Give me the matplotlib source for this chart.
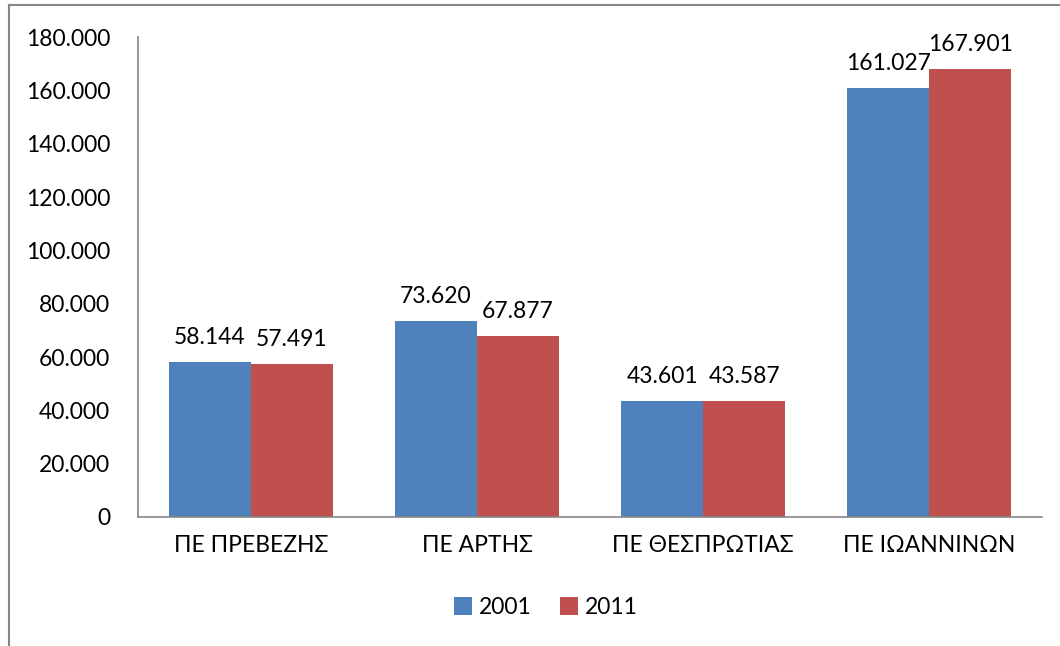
import matplotlib.pyplot as plt
import numpy as np
from matplotlib.lines import Line2D

plt.rcParams['font.family'] = ['Lato', 'DejaVu Sans']

# datos
categorias = ["ΠΕ ΠΡΕΒΕΖΗΣ", "ΠΕ ΑΡΤΗΣ", "ΠΕ ΘΕΣΠΡΩΤΙΑΣ", "ΠΕ ΙΩΑΝΝΙΝΩΝ"]
pob_2001 = [58144, 73620, 43601, 161027]
pob_2011 = [57491, 67877, 43587, 167901]
anios = ["2001", "2011"]

def fmt(v):
    # separador de miles con punto
    return f"{v:,.0f}".replace(",", ".")

fs = 16.5
fig = plt.figure(figsize=(10.6, 6.46), dpi=100)
ax = fig.add_axes([0.1302, 0.1997, 0.853, 0.743])

x = np.arange(len(categorias))
w = 0.363
b1 = ax.bar(x - w/2, pob_2001, w, color="#4F81BD", label=anios[0])
b2 = ax.bar(x + w/2, pob_2011, w, color="#C0504D", label=anios[1])

for bars in (b1, b2):
    for rect in bars:
        h = rect.get_height()
        ax.annotate(fmt(h), (rect.get_x() + rect.get_width()/2, h),
                    xytext=(0, 10), textcoords="offset points",
                    ha="center", va="bottom", fontsize=fs)

ax.set_xlim(-0.5, len(categorias) - 0.5)
ax.set_ylim(0, 180000)
ax.set_yticks(np.arange(0, 180001, 20000))
ax.set_yticklabels([fmt(v) for v in np.arange(0, 180001, 20000)], fontsize=fs)
ax.set_xticks(x)
ax.set_xticklabels(categorias, fontsize=fs)
ax.tick_params(axis="both", length=0)
ax.tick_params(axis="y", pad=20)
ax.tick_params(axis="x", pad=13)

for s in ["top", "right"]:
    ax.spines[s].set_visible(False)
for s in ["left", "bottom"]:
    ax.spines[s].set_color("#868686")
    ax.spines[s].set_linewidth(1.2)

ax.legend(loc="center", bbox_to_anchor=(0.515, 0.06), bbox_transform=fig.transFigure,
          ncol=2, frameon=False, fontsize=fs, handlelength=0.8, handleheight=0.8,
          handletextpad=0.3, columnspacing=1.2)

# marco exterior (solo arriba e izquierda)
fig.lines.append(Line2D([8.5/1060, 8.5/1060], [0, 1 - 5/646], transform=fig.transFigure,
                        color="#868686", linewidth=1.5))
fig.lines.append(Line2D([8.5/1060, 1], [1 - 5/646, 1 - 5/646], transform=fig.transFigure,
                        color="#868686", linewidth=1.5))

fig.savefig("out.png", dpi=100)
